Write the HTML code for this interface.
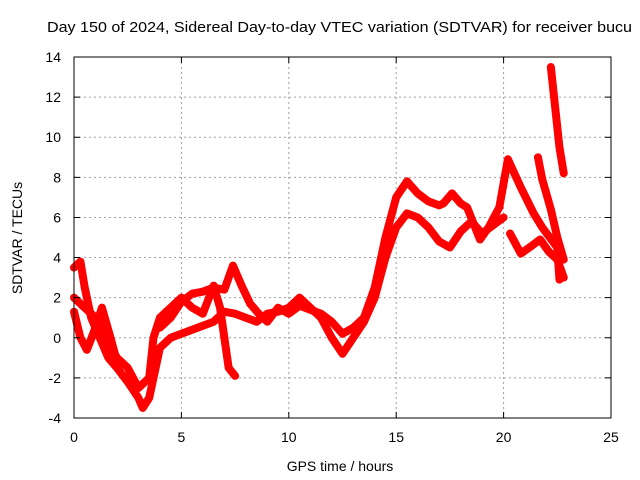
<!DOCTYPE html>
<html><head><meta charset="utf-8"><style>
body{margin:0;background:#fff;}
svg{display:block;font-family:"Liberation Sans",sans-serif;}
</style></head><body>
<svg id="chart" width="640" height="480">
<rect width="640" height="480" fill="#fff"/>
<text x="47" y="32" font-size="15" textLength="585" lengthAdjust="spacingAndGlyphs">Day 150 of 2024, Sidereal Day-to-day VTEC variation (SDTVAR) for receiver bucu</text>
<g id="grid"></g>
<g id="series"></g>
<rect x="74" y="57" width="537" height="361" fill="none" stroke="#000" stroke-width="1"/>
<g id="ticks"></g>
<text x="340" y="471" font-size="14" text-anchor="middle">GPS time / hours</text>
<text transform="translate(22,238) rotate(-90)" font-size="14" text-anchor="middle">SDTVAR / TECUs</text>
</svg>
<script>
const xTicks=[0,5,10,15,20,25];
const yTicks=[-4,-2,0,2,4,6,8,10,12,14];
const t1=[0,0.3,0.5,0.8,1.2,1.6,2,2.5,3,3.2,3.5,3.8,4,4.5,5,5.5,6,6.5,7,7.5,8,8.5,9,9.5,10,10.5,11,11.5,12,12.5,13,13.5,14,14.5,15,15.5,16,16.5,17,17.5,18,18.5,19,19.5,20];
const v1=[3.5,3.8,2.5,1,0,-1,-1.5,-2.2,-3,-3.5,-3,-1.5,-0.5,0,0.2,0.4,0.6,0.8,1.3,1.2,1,0.8,1.2,1.3,1.5,2,1.5,1,0,-0.8,0,0.8,2,4,5.5,6.2,6,5.5,4.8,4.5,5.3,5.8,5.2,5.6,6];
const t2=[0,0.5,1,1.5,2,2.5,3,3.5,3.7,4,4.5,5,5.5,6,6.5,6.8,7,7.2,7.5];
const v2=[2,1.5,1,0,-1,-1.5,-2.5,-2,0,1,1.5,2,1.5,1.2,2.6,1.5,0,-1.5,-1.9];
const t3=[4,4.5,5,5.5,6,6.5,7,7.4,7.8,8.2,8.6,9,9.5,10,10.5,11,11.5,12,12.5,13,13.5,14,14.5,15,15.5,16,16.5,17,17.2,17.6,18,18.3,18.9,19.3,19.8,20.2,20.8,21.4,21.8,22.5,22.6];
const v3=[0.5,1,1.8,2.2,2.3,2.5,2.4,3.6,2.6,1.7,1.2,0.8,1.5,1.2,1.6,1.4,1.2,0.8,0.2,0.5,1,2.5,5,7,7.8,7.2,6.8,6.6,6.7,7.2,6.7,6.5,4.9,5.5,6.5,8.9,7.5,6.2,5.5,4.5,2.9];
const t4=[0,0.3,0.6,1,1.3,1.7,2];
const v4=[1.3,0,-0.6,0.5,1.5,0,-1.2];
const t5=[20.3,20.8,21.2,21.7,22.1,22.5,22.8];
const v5=[5.2,4.2,4.5,4.9,4.3,3.9,3];
const t6=[21.6,21.8,22.2,22.5,22.8];
const v6=[9,7.9,6.4,5,3.9];
const t7=[22.2,22.4,22.5,22.6,22.8];
const v7=[13.5,11.5,10.5,9.5,8.2];
const tracks=[[t1,v1],[t2,v2],[t3,v3],[t4,v4],[t5,v5],[t6,v6],[t7,v7]];
const X=t=>74+t*(537/25);
const Y=v=>418-(v+4)*(361/18);
const NS="http://www.w3.org/2000/svg";
const grid=document.getElementById('grid'),ticks=document.getElementById('ticks'),ser=document.getElementById('series');
xTicks.forEach(t=>{
 if(t>0&&t<25){const l=document.createElementNS(NS,'line');l.setAttribute('x1',X(t));l.setAttribute('x2',X(t));l.setAttribute('y1',57);l.setAttribute('y2',418);l.setAttribute('stroke','#a0a0a0');l.setAttribute('stroke-dasharray','2,3');
 
 grid.appendChild(l);}
 const tk=document.createElementNS(NS,'path');tk.setAttribute('d',`M${X(t)},418v-6M${X(t)},57v6`);tk.setAttribute('stroke','#000');
 
 ticks.appendChild(tk);
 const tx=document.createElementNS(NS,'text');tx.setAttribute('x',X(t));tx.setAttribute('y',442);tx.setAttribute('font-size','14');tx.setAttribute('text-anchor','middle');tx.textContent=t;
 
 ticks.appendChild(tx);
});
yTicks.forEach(v=>{
 if(v>-4&&v<14){const l=document.createElementNS(NS,'line');l.setAttribute('x1',74);l.setAttribute('x2',611);l.setAttribute('y1',Y(v));l.setAttribute('y2',Y(v));l.setAttribute('stroke','#a0a0a0');l.setAttribute('stroke-dasharray','2,3');
 
 grid.appendChild(l);}
 const tk=document.createElementNS(NS,'path');tk.setAttribute('d',`M74,${Y(v)}h6M611,${Y(v)}h-6`);tk.setAttribute('stroke','#000');
 
 ticks.appendChild(tk);
 const tx=document.createElementNS(NS,'text');tx.setAttribute('x',61);tx.setAttribute('y',Y(v)+5);tx.setAttribute('font-size','14');tx.setAttribute('text-anchor','end');tx.textContent=v;
 
 ticks.appendChild(tx);
});
tracks.forEach(([ts,vs])=>{
 const p=document.createElementNS(NS,'polyline');
 p.setAttribute('points',ts.map((t,i)=>X(t)+','+Y(vs[i])).join(' '));
 p.setAttribute('fill','none');p.setAttribute('stroke','#ff0000');p.setAttribute('stroke-width','8');p.setAttribute('stroke-linejoin','round');p.setAttribute('stroke-linecap','round');
 
 
 ser.appendChild(p);
});
</script>
</body></html>
